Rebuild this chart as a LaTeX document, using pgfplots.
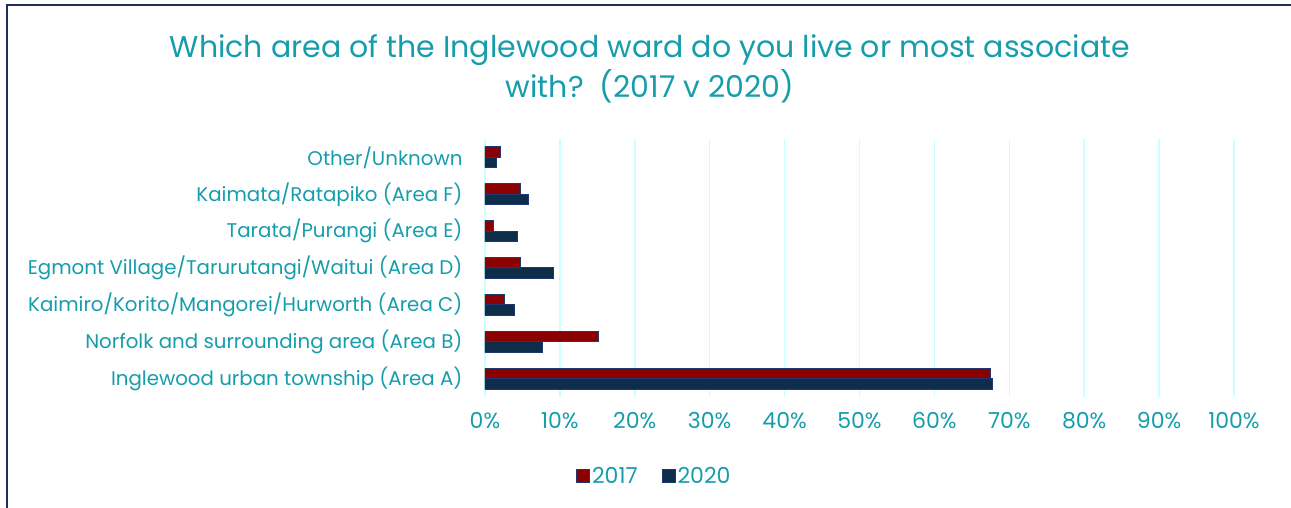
\documentclass[border=0pt]{standalone}
\usepackage{pgfplots}
\pgfplotsset{compat=1.18}
\usepackage{fontspec}
\setmainfont{Poppins}
\definecolor{tealtxt}{HTML}{169DAC}
\definecolor{red17}{HTML}{8B0000}
\definecolor{navy20}{HTML}{0D2D4B}
\definecolor{outl}{HTML}{203870}
\definecolor{gridc}{HTML}{CCFFFF}
\definecolor{framec}{HTML}{1F2D5C}
\begin{document}
\begin{tikzpicture}[x=1pt,y=1pt]
\path[use as bounding box] (0,0) rectangle (1291,508);
\draw[color=framec, line width=1.3pt] (7,0) -- (7,503) -- (1291,503);
\node[font=\fontsize{30}{40}\selectfont, text=tealtxt, align=center] at (650,439) {Which area of the Inglewood ward do you live or most associate\\with?~~(2017 v 2020)};
\begin{axis}[
  at={(485pt,111pt)}, anchor=south west,
  scale only axis, width=749pt, height=258pt,
  xbar, bar width=10.5pt,
  xmin=0, xmax=100, ymin=-0.5, ymax=6.5,
  ytick={0,...,6},
  yticklabels={Inglewood urban township (Area A),Norfolk and surrounding area (Area B),Kaimiro/Korito/Mangorei/Hurworth (Area C),Egmont Village/Tarurutangi/Waitui (Area D),Tarata/Purangi (Area E),Kaimata/Ratapiko (Area F),Other/Unknown},
  xtick={0,10,...,100},
  /pgf/number format/assume math mode=true,
  xticklabel={\pgfmathprintnumber{\tick}\%},
  axis line style={draw=none},
  major tick length=0pt,
  xmajorgrids, grid style={color=gridc, line width=1.5pt},
  yticklabel style={font=\fontsize{19.8}{22}\selectfont, text=tealtxt, xshift=-19pt},
  xticklabel style={font=\fontsize{22}{24}\selectfont, text=tealtxt, yshift=-12pt},
  legend columns=2,
  legend style={at={(0.226,-0.306)}, anchor=center, draw=none, font=\fontsize{22}{24}\selectfont, text=tealtxt, /tikz/every even column/.append style={column sep=22pt}},
  legend image code/.code={\draw[#1] (0pt,-6.5pt) rectangle (13pt,6.5pt);},
]
\addplot[fill=red17, draw=outl, line width=1pt, bar shift=5.25pt]
  coordinates {(67.5,0) (15.1,1) (2.6,2) (4.8,3) (1.2,4) (4.8,5) (2.1,6)};
\addlegendentry{2017}
\addplot[fill=navy20, draw=outl, line width=1pt, bar shift=-5.25pt]
  coordinates {(67.7,0) (7.7,1) (3.9,2) (9.2,3) (4.3,4) (5.8,5) (1.5,6)};
\addlegendentry{2020}
\end{axis}
\end{tikzpicture}
\end{document}
